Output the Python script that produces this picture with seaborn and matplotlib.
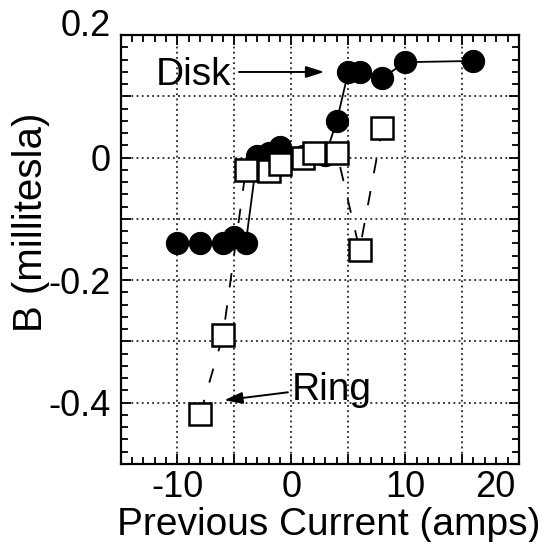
import matplotlib
matplotlib.use("Agg")
import matplotlib.pyplot as plt
import matplotlib.ticker as mticker
import matplotlib.transforms as mtrans
import numpy as np
import pandas as pd
import seaborn as sns

# values (points near 1 and 3 amps sit under the squares)
disk_current = [-10, -8, -6, -5, -4, -3, -2, -1, 1, 3, 4, 5, 6, 8, 10, 16]
disk_field = [-0.140, -0.140, -0.140, -0.130, -0.140, 0.002, 0.008, 0.018,
              0.002, 0.004, 0.060, 0.140, 0.140, 0.130, 0.156, 0.158]

ring_current = [-8, -6, -4, -2, -1, 1, 2, 4, 6, 8]
ring_field = [-0.418, -0.290, -0.020, -0.021, -0.011, 0.000, 0.007, 0.008,
              -0.150, 0.049]

x_ticks = [-10, 0, 10, 20]
y_ticks = [-0.4, -0.2, 0, 0.2]


def main():
    disk = pd.DataFrame({'current': disk_current, 'field': disk_field})
    ring = pd.DataFrame({'current': ring_current, 'field': ring_field})

    sns.set_style('ticks', {'text.color': 'black', 'axes.labelcolor': 'black',
                            'xtick.color': 'black', 'ytick.color': 'black',
                            'axes.edgecolor': 'black'})
    plt.rcParams['font.family'] = ['Liberation Sans', 'DejaVu Sans']

    fig = plt.figure(figsize=(5.48, 5.42), dpi=100)
    ax = fig.add_axes([0.220, 0.144, 0.727, 0.791])

    # Disk: filled circles, solid line
    sns.lineplot(data=disk, x='current', y='field', ax=ax, color='black',
                 linewidth=1.3, marker='o', markersize=16, markeredgecolor='black',
                 markerfacecolor='black', estimator=None, sort=True, zorder=3)

    # Ring: open squares, dashed line
    sns.lineplot(data=ring, x='current', y='field', ax=ax, color='black',
                 linewidth=1.3, marker='s', markersize=16, markeredgecolor='black',
                 markeredgewidth=1.8, markerfacecolor='white', estimator=None,
                 sort=True, zorder=4)
    ax.lines[-1].set_dashes((8, 10))

    ax.set_xlim(-15, 20)
    ax.set_ylim(-0.5, 0.2)

    # grid every 5 amps / 0.1 mT, labels only every 10 amps / 0.2 mT
    ax.xaxis.set_major_locator(mticker.MultipleLocator(5))
    ax.yaxis.set_major_locator(mticker.MultipleLocator(0.1))
    ax.xaxis.set_minor_locator(mticker.MultipleLocator(1))
    ax.yaxis.set_minor_locator(mticker.MultipleLocator(0.02))
    ax.xaxis.set_major_formatter(mticker.FuncFormatter(
        lambda v, p: f'{v:.0f}' if np.isclose(v, x_ticks).any() else ''))
    ax.yaxis.set_major_formatter(mticker.FuncFormatter(
        lambda v, p: ('0' if abs(v) < 1e-9 else f'{v:.1f}') if np.isclose(v, y_ticks).any() else ''))

    ax.tick_params(which='both', direction='in', top=True, right=True,
                   color='black', width=1.3)
    ax.tick_params(which='major', length=7, labelsize=26)
    ax.tick_params(axis='y', which='major', pad=7)
    ax.tick_params(axis='x', which='major', pad=4)
    ax.tick_params(which='minor', length=5)

    ax.grid(True, which='major', color='black', linestyle=(0, (1.2, 2.2)), linewidth=1.1)
    for s in ax.spines.values():
        s.set_linewidth(1.6)
        s.set_color('black')

    ax.set_xlabel('Previous Current (amps)', fontsize=28)
    ax.set_ylabel('B (millitesla)', fontsize=29)
    ax.xaxis.set_label_coords(0.523, -0.100)
    ax.yaxis.set_label_coords(-0.177, 0.564)

    arrow = dict(arrowstyle='-|>,head_length=1.1,head_width=0.35', color='black',
                 lw=1.4, shrinkA=0, shrinkB=0)
    ax.text(-11.9, 0.119, 'Disk', fontsize=28, ha='left', va='baseline')
    ax.annotate('', xy=(2.9, 0.140), xytext=(-4.6, 0.140), arrowprops=arrow)
    ax.text(0.0, -0.396, 'Ring', fontsize=28, ha='left', va='baseline')
    ax.annotate('', xy=(-5.9, -0.396), xytext=(-0.3, -0.383), arrowprops=arrow)

    # the end labels sit pulled inwards in the original
    fig.canvas.draw()
    for lab in ax.get_yticklabels():
        if lab.get_text() == '0.2':
            lab.set_transform(lab.get_transform() + mtrans.ScaledTranslation(0, 0.13, fig.dpi_scale_trans))
    for lab in ax.get_xticklabels():
        if lab.get_text() == '20':
            lab.set_transform(lab.get_transform() + mtrans.ScaledTranslation(-0.24, 0, fig.dpi_scale_trans))

    fig.savefig('out.png', dpi=100)


if __name__ == "__main__":
    main()
